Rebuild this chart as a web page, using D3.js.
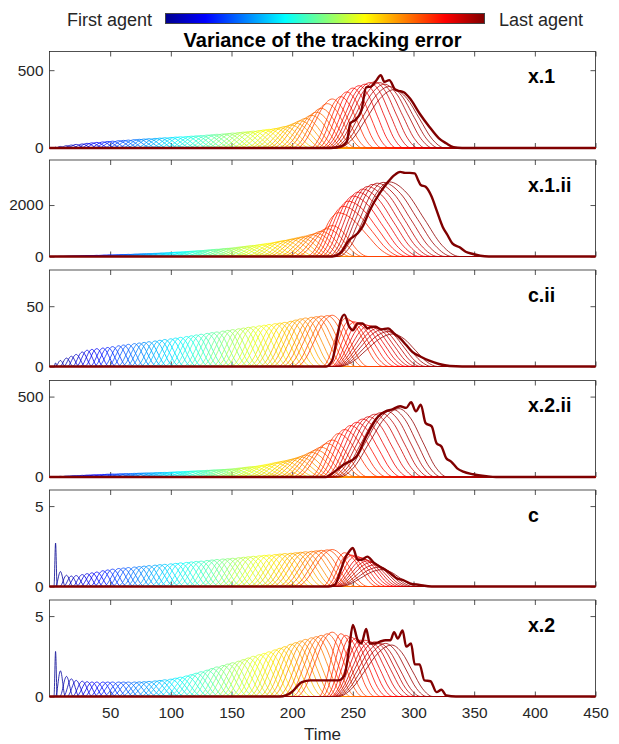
<!DOCTYPE html>
<html>
<head>
<meta charset="utf-8">
<script src="https://cdn.jsdelivr.net/npm/d3@7"></script>
<style>
  body { margin: 0; background: #fff; }
  svg { display: block; }
</style>
</head>
<body>
<div id="chart"></div>
<script>
// ---- data ----
const timeTicks = [50, 100, 150, 200, 250, 300, 350, 400, 450];
const panelNames = ['x.1', 'x.1.ii', 'c.ii', 'x.2.ii', 'c', 'x.2'];
const yMaxes = [620, 3750, 80, 600, 6, 6];
const yTickValues = [[0, 500], [0, 2000], [0, 50], [0, 500], [0, 5], [0, 5]];

// regular agents: time of each agent's peak and the half width of its bump
const peakTimes = [5, 9, 14, 18, 22, 27, 31, 35, 39, 44, 48, 52, 57, 61, 65, 70, 74, 78, 82, 87,
  91, 95, 100, 104, 108, 113, 117, 121, 125, 130, 134, 138, 143, 147, 151, 156, 160, 164, 168, 173,
  177, 181, 186, 190, 194, 199, 203, 207, 211, 216, 220, 224, 229, 233];
const halfWidths = [1.3, 4, 5.5, 6.5, 7.5, 8.2, 9, 9.6, 10.2, 10.8, 11.4, 12, 12.5, 13, 13.5, 14, 14.5, 15, 15.4, 15.8,
  16.2, 16.6, 17, 17.4, 17.8, 18.2, 18.6, 19, 19.4, 19.8, 20.2, 20.6, 21, 21.4, 21.8, 22.2, 22.6, 23, 23.4, 23.8,
  24.2, 24.6, 25, 25.4, 25.8, 26.2, 26.6, 27, 27.4, 27.8, 28.2, 28.6, 29, 29.4];

// bump profile: [offset (-1 start .. 0 peak .. 1 end), fraction of peak]
const archShape = [[-1, 0], [-0.75, 0.15], [-0.5, 0.5], [-0.25, 0.85], [0, 1], [0.25, 0.85], [0.5, 0.5], [0.75, 0.15], [1, 0]];

// peak heights of the regular agents, per panel
const peaksX1 = [5, 10, 15, 19, 23, 26, 30, 33, 36, 39, 42, 44, 47, 49, 51, 54, 56, 58, 60, 62,
  64, 66, 68, 70, 72, 74, 76, 78, 80, 83, 85, 88, 90, 93, 96, 99, 102, 105, 108, 112,
  116, 120, 125, 130, 138, 148, 160, 175, 190, 210, 230, 255, 285, 315];
const peaksX1ii = [3, 8, 13, 18, 22, 28, 33, 39, 45, 52, 58, 63, 71, 78, 84, 92, 98, 106, 114, 123,
  131, 141, 156, 167, 178, 192, 205, 218, 230, 249, 265, 282, 302, 318, 335, 363, 385, 407, 430, 458,
  485, 513, 548, 590, 625, 670, 710, 750, 790, 850, 900, 980, 1080, 1200];
const peaksCii = [3, 5, 7, 8.5, 10, 12, 13.5, 14.2, 14.8, 15.3, 15.8, 16.5, 17.2, 17.8, 18.4, 19, 19.5, 20, 20.6, 21.2,
  21.8, 22.4, 23, 23.6, 24.2, 24.9, 25.5, 26.2, 26.8, 27.5, 28.1, 28.7, 29.4, 30, 30.6, 31.3, 31.9, 32.5, 33, 33.7,
  34.2, 34.8, 35.5, 36, 36.6, 37.5, 38.5, 39.5, 40.2, 40.8, 41.3, 41.8, 42.2, 42.5];
const peaksX2ii = [2, 4, 6, 7.5, 9, 10.5, 12, 13.2, 14.5, 16, 17.3, 18.5, 19.6, 20.5, 21.5, 22.7, 23.7, 24.7, 25.6, 26.8,
  27.8, 28.8, 30, 31.5, 33, 35, 36.5, 38, 39.5, 41.5, 43, 45, 47, 48.5, 51, 55, 58, 62, 65, 69,
  74, 80, 88, 94, 100, 108, 116, 125, 136, 153, 168, 185, 208, 230];
const peaksC = [2.7, 0.93, 0.7, 0.65, 0.68, 0.74, 0.8, 0.85, 0.9, 0.98, 1.03, 1.08, 1.12, 1.15, 1.18, 1.21, 1.24, 1.27, 1.3, 1.33,
  1.36, 1.38, 1.41, 1.44, 1.47, 1.5, 1.53, 1.56, 1.58, 1.62, 1.65, 1.68, 1.71, 1.73, 1.76, 1.79, 1.82, 1.85, 1.88, 1.91,
  1.94, 1.96, 1.99, 2.02, 2.05, 2.07, 2.1, 2.13, 2.16, 2.19, 2.22, 2.25, 2.28, 2.3];
const peaksX2 = [2.8, 1.6, 1.25, 1.1, 1.0, 0.95, 0.92, 0.9, 0.9, 0.9, 0.9, 0.9, 0.9, 0.9, 0.9, 0.9, 0.91, 0.92, 0.94, 0.97,
  1.0, 1.04, 1.08, 1.14, 1.2, 1.28, 1.36, 1.45, 1.54, 1.64, 1.74, 1.84, 1.93, 2.02, 2.1, 2.2, 2.3, 2.4, 2.5, 2.6,
  2.68, 2.78, 2.9, 3.0, 3.1, 3.25, 3.35, 3.45, 3.55, 3.65, 3.72, 3.8, 3.9, 4.0];

// late agents: [start, peak time, peak value, end]
const lateX1 = [[215, 240, 330, 268], [218, 245, 360, 274], [221, 250, 385, 280], [224, 255, 400, 286], [226, 260, 410, 292],
  [228, 264, 420, 298], [230, 268, 425, 304], [232, 272, 420, 310], [234, 276, 410, 316], [236, 280, 395, 321], [238, 284, 375, 326]];
const lateX1ii = [[212, 238, 1700, 285], [215, 242, 1950, 290], [218, 246, 2150, 295], [221, 250, 2350, 300], [224, 254, 2500, 305],
  [227, 258, 2620, 310], [230, 262, 2720, 315], [232, 266, 2800, 320], [234, 270, 2850, 326], [236, 275, 2880, 332], [238, 280, 2900, 338]];
const lateCii = [[225, 244, 40, 275], [228, 247, 38, 280], [230, 251, 37, 285], [232, 255, 36, 290], [233, 259, 35, 294],
  [234, 263, 34, 298], [235, 267, 33, 302], [236, 271, 32, 306], [237, 275, 31, 310], [238, 279, 29, 315], [239, 283, 27, 320]];
const lateX2ii = [[215, 238, 270, 272], [218, 243, 295, 278], [221, 248, 320, 284], [224, 253, 340, 290], [227, 258, 360, 296],
  [229, 263, 375, 302], [231, 268, 390, 308], [233, 273, 400, 313], [235, 278, 410, 318], [237, 283, 420, 323], [239, 288, 425, 328]];
const lateC = [[225, 243, 2.1, 270], [228, 246, 2.0, 274], [230, 249, 1.95, 278], [232, 252, 1.9, 282], [233, 256, 1.8, 285],
  [234, 259, 1.7, 288], [235, 262, 1.6, 291], [236, 265, 1.5, 294], [237, 268, 1.35, 297], [238, 271, 1.2, 300], [239, 274, 1.05, 304]];
const lateX2 = [[222, 240, 3.9, 268], [225, 244, 3.8, 273], [228, 248, 3.7, 278], [230, 252, 3.6, 283], [232, 256, 3.5, 288],
  [233, 260, 3.5, 293], [234, 264, 3.4, 298], [235, 268, 3.4, 302], [236, 272, 3.3, 306], [237, 277, 3.3, 311], [238, 282, 3.2, 316]];

// last agent (thick line): [time, value]
const lastX1 = [[0, 0], [232, 0], [240, 10], [245, 40], [248, 160], [252, 180], [257, 240], [261, 390], [265, 395], [269, 430],
  [273, 468], [276, 425], [280, 436], [285, 375], [289, 365], [292, 358], [297, 319], [305, 222], [313, 137], [321, 62],
  [327, 30], [333, 5], [340, 0], [450, 0]];
const lastX1ii = [[0, 0], [233, 0], [240, 150], [247, 640], [254, 900], [258, 1160], [264, 1800], [272, 2450], [279, 2900],
  [284, 3150], [289, 3290], [293, 3250], [297, 3250], [301, 3230], [304, 2950], [306, 2780], [310, 2710], [315, 2320],
  [319, 1800], [324, 1160], [328, 835], [332, 510], [338, 357], [343, 186], [349, 97], [355, 30], [362, 0], [450, 0]];
const lastCii = [[0, 0], [228, 0], [233, 5], [237, 24], [240, 38], [243, 43], [247, 33], [250, 30], [254, 35.7], [258, 35.7],
  [262, 31.6], [266, 33], [269, 33], [273, 30.7], [279, 31.6], [284, 27.4], [289, 23.3], [294, 17.8], [299, 12.2],
  [306, 8.1], [313, 4.8], [321, 2.1], [330, 0.4], [340, 0], [450, 0]];
const lastX2ii = [[0, 0], [228, 0], [231, 12], [242, 75], [253, 127], [261, 252], [271, 377], [277, 408], [282, 419],
  [289, 440], [294, 430], [298, 465], [302, 408], [306, 450], [310, 335], [315, 315], [319, 210], [323, 190], [327, 117],
  [331, 96], [336, 54], [341, 33], [349, 17], [360, 5], [368, 0], [450, 0]];
const lastC = [[0, 0], [230, 0], [235, 0.1], [240, 1.0], [243, 1.66], [247, 2.18], [250, 2.39], [254, 1.66], [257, 1.66],
  [262, 1.86], [267, 1.5], [272, 1.24], [277, 1.03], [282, 0.75], [286, 0.51], [291, 0.41], [297, 0.2], [305, 0.1],
  [315, 0], [450, 0]];
const lastX2 = [[0, 0], [190, 0], [200, 0.3], [208, 0.9], [215, 1.0], [238, 1.0], [243, 1.3], [247, 3.0], [250, 4.45],
  [254, 3.5], [257, 3.3], [261, 4.2], [264, 3.3], [268, 3.3], [272, 3.4], [277, 3.5], [281, 3.5], [284, 4.0], [287, 3.6],
  [291, 4.1], [294, 3.1], [298, 3.3], [301, 2.0], [305, 2.0], [309, 1.0], [314, 0.95], [319, 0.27], [323, 0.42],
  [327, 0.06], [335, 0], [450, 0]];

// jet colour map
const jetStops = [0, 0.125, 0.375, 0.625, 0.875, 1];
const jetColors = ['#00008f', '#0000ff', '#00ffff', '#ffff00', '#ff0000', '#800000'];

// ---- layout ----
const width = 619, height = 744;
const plotLeft = 49.5, plotRight = 595.5;
const panelTops = [51.5, 160, 270, 380.5, 490, 600];
const panelHeight = 96.5;
const axisColor = '#262626';
const fontFamily = '"Liberation Sans", Arial, Helvetica, sans-serif';

const panels = [
  { name: panelNames[0], yMax: yMaxes[0], ticks: yTickValues[0], peaks: peaksX1, late: lateX1, last: lastX1 },
  { name: panelNames[1], yMax: yMaxes[1], ticks: yTickValues[1], peaks: peaksX1ii, late: lateX1ii, last: lastX1ii },
  { name: panelNames[2], yMax: yMaxes[2], ticks: yTickValues[2], peaks: peaksCii, late: lateCii, last: lastCii },
  { name: panelNames[3], yMax: yMaxes[3], ticks: yTickValues[3], peaks: peaksX2ii, late: lateX2ii, last: lastX2ii },
  { name: panelNames[4], yMax: yMaxes[4], ticks: yTickValues[4], peaks: peaksC, late: lateC, last: lastC },
  { name: panelNames[5], yMax: yMaxes[5], ticks: yTickValues[5], peaks: peaksX2, late: lateX2, last: lastX2 }
];

const agentCount = peakTimes.length + lateX1.length + 1;
const jet = d3.scaleLinear().domain(jetStops).range(jetColors).interpolate(d3.interpolateRgb);
const agentColor = k => jet(k / (agentCount - 1));

const x = d3.scaleLinear().domain([0, 450]).range([plotLeft, plotRight]);

function archSeries(start, peak, end, value) {
  const pts = archShape.map(([u, f]) => [u < 0 ? peak + u * (peak - start) : peak + u * (end - peak), f * value]);
  return [[0, 0], ...pts, [450, 0]];
}

function styleAxis(g, size) {
  g.attr('font-family', fontFamily).attr('font-size', size);
  g.select('.domain').remove();
  g.selectAll('.tick line').attr('stroke', axisColor).attr('stroke-width', 0.8);
  g.selectAll('.tick text').attr('fill', axisColor);
}

const svg = d3.select('#chart').append('svg')
  .attr('width', width)
  .attr('height', height);

// colour bar and title
const grad = svg.append('defs').append('linearGradient').attr('id', 'jet');
jetStops.forEach((s, i) => grad.append('stop').attr('offset', s).attr('stop-color', jetColors[i]));

svg.append('rect')
  .attr('x', 165.5).attr('y', 13.5).attr('width', 319).attr('height', 10)
  .attr('fill', 'url(#jet)')
  .attr('stroke', '#444').attr('stroke-width', 1);

svg.append('text')
  .attr('x', 152).attr('y', 25.5)
  .attr('text-anchor', 'end')
  .attr('font-family', fontFamily).attr('font-size', 18)
  .attr('fill', axisColor)
  .text('First agent');

svg.append('text')
  .attr('x', 499).attr('y', 25.5)
  .attr('font-family', fontFamily).attr('font-size', 18)
  .attr('fill', axisColor)
  .text('Last agent');

svg.append('text')
  .attr('x', (plotLeft + plotRight) / 2).attr('y', 47)
  .attr('text-anchor', 'middle')
  .attr('font-family', fontFamily).attr('font-size', 20).attr('font-weight', 'bold')
  .attr('fill', '#000')
  .text('Variance of the tracking error');

panels.forEach((p, i) => {
  const top = panelTops[i];
  const bottom = top + panelHeight;
  const y = d3.scaleLinear().domain([0, p.yMax]).range([bottom, top]);
  const g = svg.append('g').attr('class', 'panel');

  // box
  g.append('rect')
    .attr('x', plotLeft).attr('y', top)
    .attr('width', plotRight - plotLeft).attr('height', panelHeight)
    .attr('fill', 'none').attr('stroke', axisColor).attr('stroke-width', 0.8);

  const isLast = i === panels.length - 1;
  const xb = g.append('g').attr('transform', `translate(0,${bottom})`)
    .call(d3.axisBottom(x).tickValues(timeTicks).tickSizeInner(-5).tickSizeOuter(0).tickPadding(11)
      .tickFormat(isLast ? d3.format('d') : () => ''));
  styleAxis(xb, 15.4);
  const xt = g.append('g').attr('transform', `translate(0,${top})`)
    .call(d3.axisTop(x).tickValues(timeTicks).tickSizeInner(-5).tickSizeOuter(0).tickFormat(() => ''));
  styleAxis(xt, 15.4);
  const yl = g.append('g').attr('transform', `translate(${plotLeft},0)`)
    .call(d3.axisLeft(y).tickValues(p.ticks).tickSizeInner(-5).tickSizeOuter(0).tickPadding(6).tickFormat(d3.format('d')));
  styleAxis(yl, 15.4);
  const yr = g.append('g').attr('transform', `translate(${plotRight},0)`)
    .call(d3.axisRight(y).tickValues(p.ticks).tickSizeInner(-5).tickSizeOuter(0).tickFormat(() => ''));
  styleAxis(yr, 15.4);

  // agents
  const curves = [];
  peakTimes.forEach((t, k) => curves.push({
    pts: archSeries(t - halfWidths[k], t, t + halfWidths[k], p.peaks[k]), k: k, thick: false
  }));
  p.late.forEach(([s, t, v, e], j) => curves.push({
    pts: archSeries(s, t, e, v), k: peakTimes.length + j, thick: false
  }));
  curves.push({ pts: p.last, k: agentCount - 1, thick: true });

  const line = d3.line()
    .x(d => x(d[0]))
    .y(d => y(d[1]))
    .curve(d3.curveMonotoneX);

  g.append('g').selectAll('path')
    .data(curves)
    .join('path')
    .attr('d', d => line(d.pts))
    .attr('fill', 'none')
    .attr('stroke', d => agentColor(d.k))
    .attr('stroke-width', d => d.thick ? 2.4 : 0.8)
    .attr('stroke-linejoin', 'round');

  g.append('text')
    .attr('x', 528).attr('y', top + 31.5)
    .attr('font-family', fontFamily).attr('font-size', 19.5).attr('font-weight', 'bold')
    .attr('fill', '#000')
    .text(p.name);
});

svg.append('text')
  .attr('x', (plotLeft + plotRight) / 2).attr('y', 740)
  .attr('text-anchor', 'middle')
  .attr('font-family', fontFamily).attr('font-size', 17)
  .attr('fill', axisColor)
  .text('Time');
</script>
</body>
</html>
